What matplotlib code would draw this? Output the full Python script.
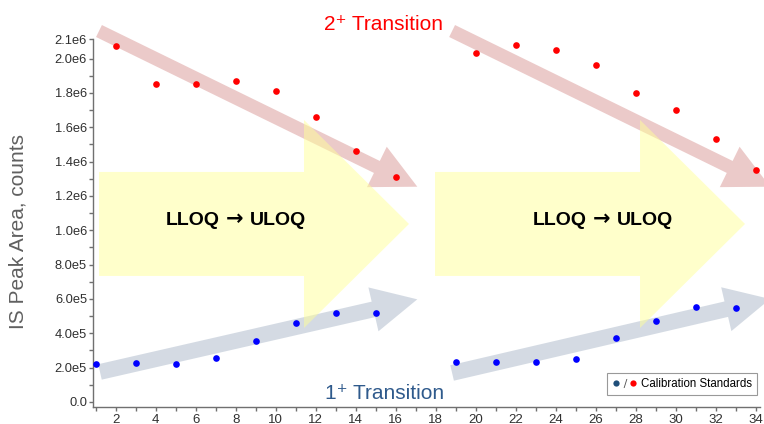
import matplotlib
matplotlib.use('Agg')
import matplotlib.pyplot as plt
from matplotlib.patches import Polygon
from matplotlib.lines import Line2D
from matplotlib.legend_handler import HandlerTuple

plt.rcParams['font.family'] = ['Liberation Sans', 'DejaVu Sans']

# 2+ transition (red) and 1+ transition (blue) IS peak areas
x_red = [2, 4, 6, 8, 10, 12, 14, 16, 20, 22, 24, 26, 28, 30, 32, 34]
y_red = [2.074e6, 1.853e6, 1.853e6, 1.872e6, 1.812e6, 1.662e6, 1.462e6, 1.313e6,
         2.031e6, 2.082e6, 2.051e6, 1.962e6, 1.800e6, 1.701e6, 1.532e6, 1.352e6]
x_blue = [1, 3, 5, 7, 9, 11, 13, 15, 19, 21, 23, 25, 27, 29, 31, 33]
y_blue = [0.220e6, 0.229e6, 0.220e6, 0.255e6, 0.354e6, 0.458e6, 0.520e6, 0.517e6,
          0.231e6, 0.231e6, 0.231e6, 0.252e6, 0.371e6, 0.470e6, 0.555e6, 0.546e6]

y_ticks = [0, 2e5, 4e5, 6e5, 8e5, 1.0e6, 1.2e6, 1.4e6, 1.6e6, 1.8e6, 2.0e6, 2.113e6]
y_labels = ['0.0', '2.0e5', '4.0e5', '6.0e5', '8.0e5', '1.0e6', '1.2e6', '1.4e6',
            '1.6e6', '1.8e6', '2.0e6', '2.1e6']
x_ticks = list(range(2, 35, 2))

fig = plt.figure(figsize=(7.64, 4.24), dpi=100)
ax = fig.add_axes([0.1221, 0.0394, 0.8723, 0.868])
ax.set_xlim(0.88, 34.2)
ax.set_ylim(-0.031e6, 2.113e6)

# big yellow block arrows
for x0, x1, x2 in [(1.165, 11.415, 16.665), (17.965, 28.215, 33.465)]:
    pts = [(x0, 1.340e6), (x1, 1.340e6), (x1, 1.643e6), (x2, 1.037e6),
           (x1, 0.431e6), (x1, 0.734e6), (x0, 0.734e6)]
    ax.add_patch(Polygon(pts, closed=True, fc='#ffff99', ec='none', alpha=0.5, zorder=2))

# trend arrows
arrows = [((1.165, 2.161e6), (17.08, 1.254e6), '#c0504d', 0.3, 9.6),
          ((18.82, 2.161e6), (34.72, 1.254e6), '#c0504d', 0.3, 9.6),
          ((1.215, 0.175e6), (17.08, 0.598e6), '#8497b0', 0.35, 11.4),
          ((18.82, 0.169e6), (34.72, 0.600e6), '#8497b0', 0.35, 11.4)]
for tail, tip, c, a, tw in arrows:
    ax.annotate('', xy=tip, xytext=tail, annotation_clip=False, zorder=1,
                arrowprops=dict(arrowstyle='simple,head_length=32.4,head_width=32.4,tail_width=%s' % tw,
                                mutation_scale=1, fc=c, ec='none', alpha=a,
                                shrinkA=0, shrinkB=0))

ax.plot(x_red, y_red, 'o', color='#ff0000', ms=4.8, mew=0, zorder=4, clip_on=False)
ax.plot(x_blue, y_blue, 'o', color='#0000ff', ms=4.8, mew=0, zorder=4, clip_on=False)

for xc in [7.95, 26.29]:
    kw = dict(xy=(xc, 1.060e6), textcoords='offset points', va='center',
              fontweight='bold', color='black', zorder=5)
    ax.annotate('LLOQ', xytext=(-10.8, 0), ha='right', fontsize=14, **kw)
    ax.annotate('\u2192', xytext=(0, 0.5), ha='center', fontsize=15, family='DejaVu Sans', **kw)
    ax.annotate('ULOQ', xytext=(11, 0), ha='left', fontsize=14, **kw)

fig.text(0.502, 0.943, '2\u207a Transition', ha='center', va='center', fontsize=15, color='#ff0000')
fig.text(0.503, 0.072, '1\u207a Transition', ha='center', va='center', fontsize=15, color='#2f5a8c')
fig.text(0.024, 0.4535, 'IS Peak Area, counts', ha='center', va='center', rotation=90,
         fontsize=15, color='#606060')

# axes styling
for s in ['top', 'right']:
    ax.spines[s].set_visible(False)
for s in ['left', 'bottom']:
    ax.spines[s].set_color('#707070')
    ax.spines[s].set_linewidth(1)
ax.set_yticks(y_ticks)
ax.set_yticklabels(y_labels)
ax.set_yticks([1e5 * i for i in range(1, 21, 2)], minor=True)
ax.set_xticks(x_ticks)
ax.set_xticks(list(range(1, 35, 2)), minor=True)
ax.tick_params(axis='both', which='both', length=3, width=1, color='#707070', labelcolor='#303030', pad=1.5)
ax.tick_params(axis='y', labelsize=9.3)
ax.tick_params(axis='x', labelsize=9.5)

# legend
h1 = Line2D([], [], marker='o', ls='none', color='#1f4e79', ms=4.5, mew=0)
h2 = Line2D([], [], marker='$/$', ls='none', color='#555555', ms=6.5, mew=0)
h3 = Line2D([], [], marker='o', ls='none', color='#ff0000', ms=4.5, mew=0)
leg = ax.legend([(h1, h2, h3)], ['Calibration Standards'],
                handler_map={tuple: HandlerTuple(ndivide=None, pad=0)},
                loc='lower right', bbox_to_anchor=(0.996, 0.033), borderaxespad=0,
                fontsize=8.3, frameon=True, fancybox=False, edgecolor='#808080',
                handlelength=2.2, handletextpad=0.3, borderpad=0.45)
leg.get_frame().set_linewidth(0.8)
leg.set_zorder(6)

fig.savefig('out.png', dpi=100)
